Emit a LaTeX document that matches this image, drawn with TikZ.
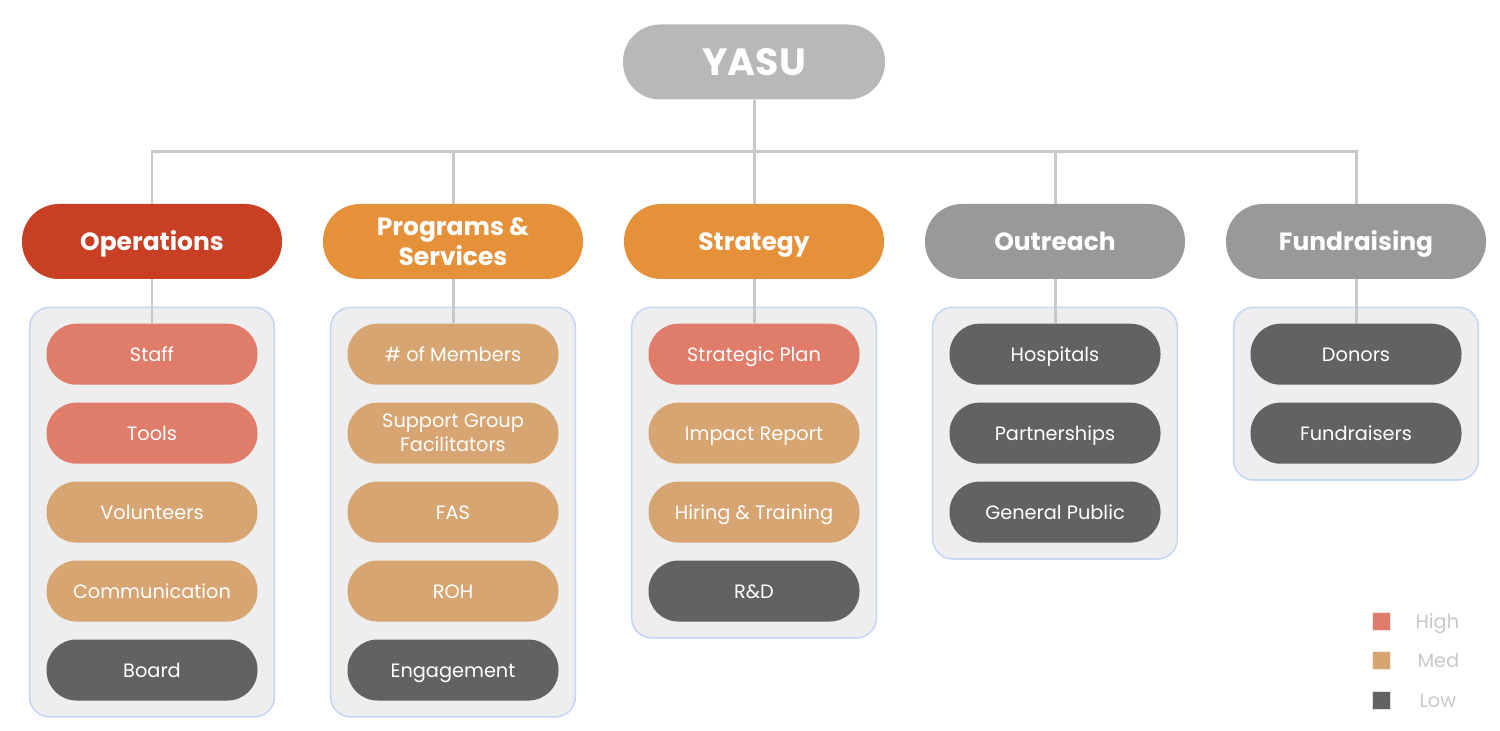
\documentclass[tikz,border=0pt]{standalone}
\usepackage{fontspec}
\setmainfont{Poppins}
\usetikzlibrary{positioning,fit,backgrounds}
\definecolor{topgray}{HTML}{B8B8B8}
\definecolor{opsred}{HTML}{C93F24}
\definecolor{orange}{HTML}{E5913A}
\definecolor{headgray}{HTML}{999999}
\definecolor{high}{HTML}{DF7C6A}
\definecolor{med}{HTML}{D7A572}
\definecolor{low}{HTML}{626262}
\definecolor{grpfill}{HTML}{EEEEEE}
\definecolor{grpline}{HTML}{C6D6F5}
\definecolor{linkgray}{HTML}{C8C8C8}
\definecolor{keytext}{HTML}{C8C8C8}

\begin{document}
\begin{tikzpicture}[
		head/.style={rectangle, rounded corners=0.74cm, minimum width=5.2cm, minimum height=1.5cm, text=white, align=center, font=\bfseries\fontsize{14.2}{17.2}\selectfont},
		item/.style={rectangle, rounded corners=0.6cm, minimum width=4.22cm, minimum height=1.22cm, text=white, align=center, font=\fontsize{11}{13.7}\selectfont},
		oneline/.style={text height=8.1pt, text depth=0pt},
		group/.style={rectangle, rounded corners=0.4cm, fill=grpfill, draw=grpline, line width=0.9pt, inner xsep=0.33cm, inner ysep=0.32cm},
		link/.style={draw=linkgray, line width=1.7pt},
		key/.style={rectangle, minimum size=0.36cm, inner sep=0pt, draw=white!80!#1, fill=#1},
		keytxt/.style={text=keytext, font=\fontsize{11}{13}\selectfont, text height=8.1pt, text depth=0pt, anchor=west}
	]
		\useasboundingbox (0,0) rectangle (30,-14.62);
		
		%%% top
		\node[head, fill=topgray, minimum width=5.24cm, font=\bfseries\fontsize{21.6}{24}\selectfont] (yasu) at (15.08,-1.24) {YASU};
		\coordinate (bar) at (0,-3.04);
		
		%%% heads
		\node[head, fill=opsred, text height=10.5pt, text depth=0pt] (ops) at (3.04,-4.83) {Operations};
		\node[head, fill=orange] (prog) at (9.06,-4.83) {Programs \&\\ Services};
		\node[head, fill=orange, text height=10.5pt, text depth=0pt] (strat) at (15.08,-4.83) {Strategy};
		\node[head, fill=headgray, text height=10.5pt, text depth=0pt] (outr) at (21.10,-4.83) {Outreach};
		\node[head, fill=headgray, text height=10.5pt, text depth=0pt] (fund) at (27.12,-4.83) {Fundraising};
		
		%%% operations
		\node[item, oneline, fill=high, below=0.88cm of ops] (ops1) {Staff};
		\node[item, oneline, fill=high, below=0.345cm of ops1] (ops2) {Tools};
		\node[item, oneline, fill=med, below=0.345cm of ops2] (ops3) {Volunteers};
		\node[item, oneline, fill=med, below=0.345cm of ops3] (ops4) {Communication};
		\node[item, oneline, fill=low, below=0.345cm of ops4] (ops5) {Board};
		
		%%% programs & services
		\node[item, oneline, fill=med, below=0.88cm of prog] (prog1) {\# of Members};
		\node[item, fill=med, below=0.345cm of prog1] (prog2) {Support Group\\ Facilitators};
		\node[item, oneline, fill=med, below=0.345cm of prog2] (prog3) {FAS};
		\node[item, oneline, fill=med, below=0.345cm of prog3] (prog4) {ROH};
		\node[item, oneline, fill=low, below=0.345cm of prog4] (prog5) {Engagement};
		
		%%% strategy
		\node[item, oneline, fill=high, below=0.88cm of strat] (strat1) {Strategic Plan};
		\node[item, oneline, fill=med, below=0.345cm of strat1] (strat2) {Impact Report};
		\node[item, oneline, fill=med, below=0.345cm of strat2] (strat3) {Hiring \& Training};
		\node[item, oneline, fill=low, below=0.345cm of strat3] (strat4) {R\&D};
		
		%%% outreach
		\node[item, oneline, fill=low, below=0.88cm of outr] (outr1) {Hospitals};
		\node[item, oneline, fill=low, below=0.345cm of outr1] (outr2) {Partnerships};
		\node[item, oneline, fill=low, below=0.345cm of outr2] (outr3) {General Public};
		
		%%% fundraising
		\node[item, oneline, fill=low, below=0.88cm of fund] (fund1) {Donors};
		\node[item, oneline, fill=low, below=0.345cm of fund1] (fund2) {Fundraisers};
		
		\begin{scope}[on background layer]
			\node[group, fit=(ops1)(ops5)] (opsgrp) {};
			\node[group, fit=(prog1)(prog5)] (proggrp) {};
			\node[group, fit=(strat1)(strat4)] (stratgrp) {};
			\node[group, fit=(outr1)(outr3)] (outrgrp) {};
			\node[group, fit=(fund1)(fund2)] (fundgrp) {};
		\end{scope}
		
		%%% links
		\draw[link] (yasu.south) -- (yasu.south |- bar) -| (ops.north);
		\draw[link] (yasu.south) -- (yasu.south |- bar) -| (prog.north);
		\draw[link] (yasu.south) -- (strat.north);
		\draw[link] (yasu.south) -- (yasu.south |- bar) -| (outr.north);
		\draw[link] (yasu.south) -- (yasu.south |- bar) -| (fund.north);
		\draw[link] (ops.south) -- (ops1.north);
		\draw[link] (prog.south) -- (prog1.north);
		\draw[link] (strat.south) -- (strat1.north);
		\draw[link] (outr.south) -- (outr1.north);
		\draw[link] (fund.south) -- (fund1.north);
		
		%%% key
		\node[key=high] (hi) at (27.62,-12.42) {};
		\node[key=med] (md) at (27.62,-13.2) {};
		\node[key=low] (lo) at (27.62,-14.0) {};
		\node[keytxt, right=0.38cm of hi] (hitxt) {High};
		\node[keytxt, right=0.42cm of md] (mdtxt) {Med};
		\node[keytxt, right=0.46cm of lo] (lotxt) {Low};
		
	\end{tikzpicture}
\end{document}
